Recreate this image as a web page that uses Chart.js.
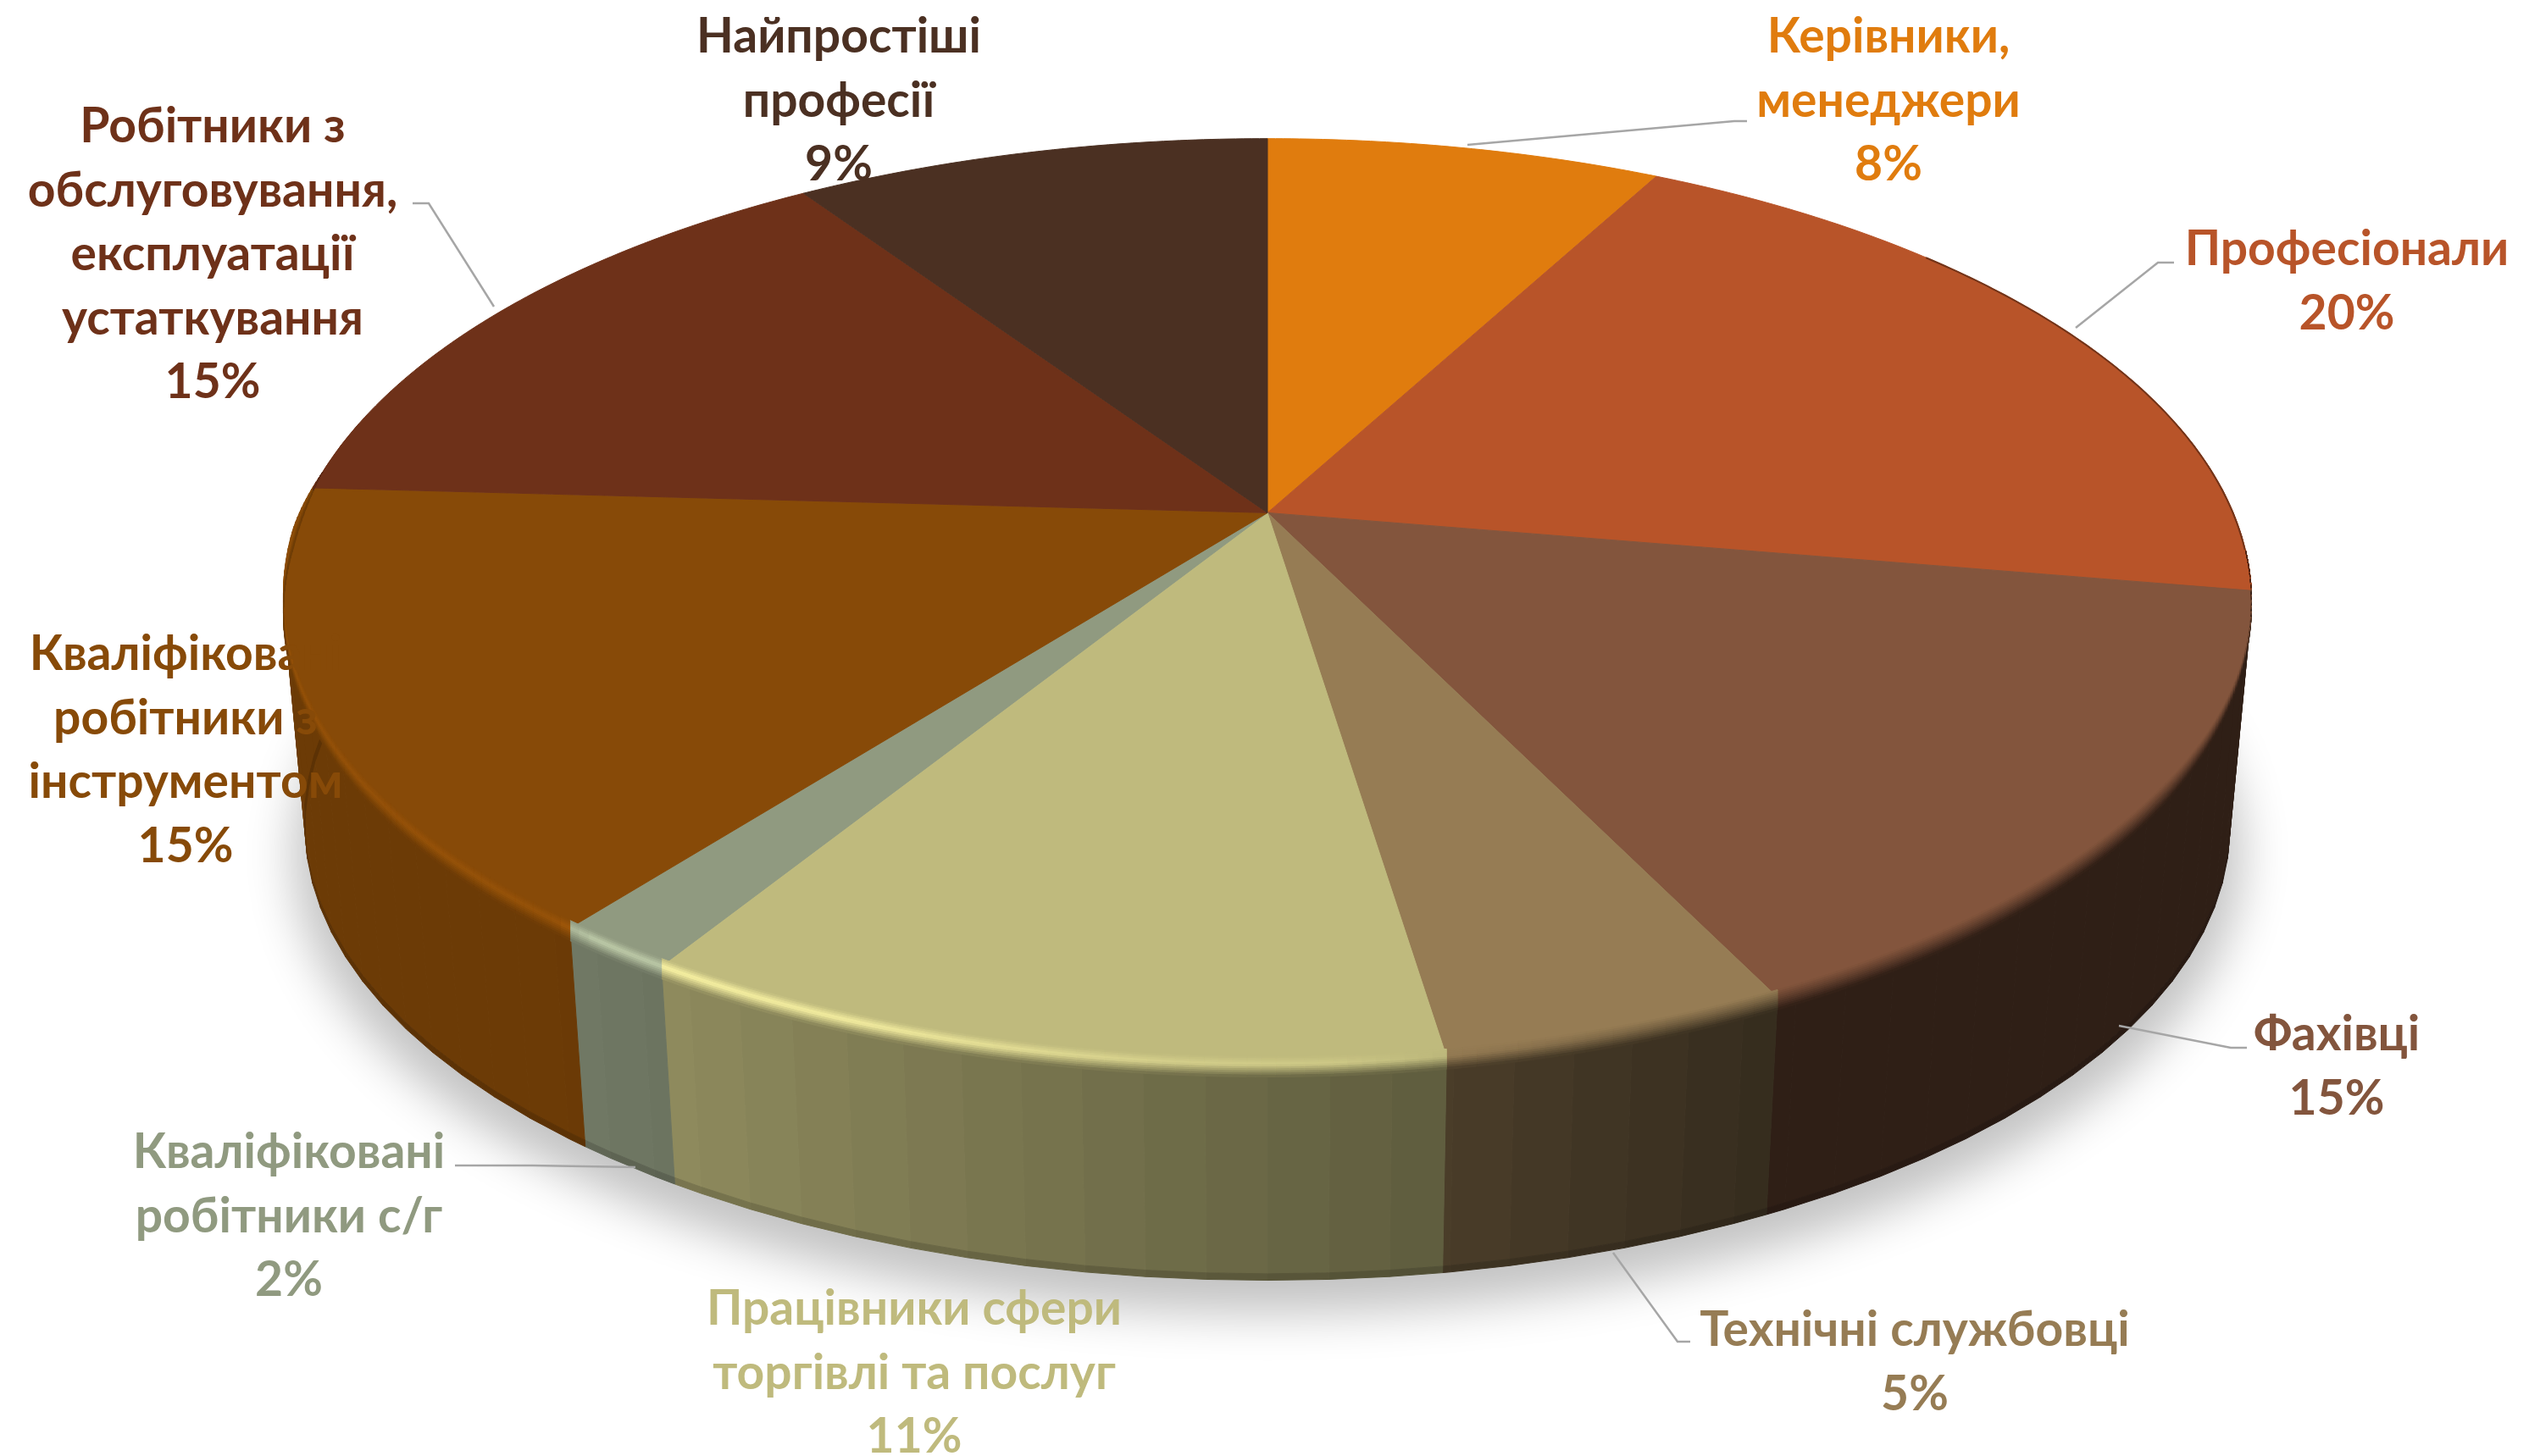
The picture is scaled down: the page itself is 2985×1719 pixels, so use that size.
<!DOCTYPE html>
<html lang="uk">
<head>
<meta charset="utf-8">
<title>Професійний склад</title>
<script src="https://cdn.jsdelivr.net/npm/chart.js@4/dist/chart.umd.js"></script>
<style>
html, body { margin: 0; padding: 0; background: #fff; }
canvas { display: block; }
</style>
</head>
<body>
<canvas id="pie" width="2985" height="1719"></canvas>
<script>
// Chart values, estimated from the slice edges; labels show them rounded
const categories = [
    ['Керівники,', 'менеджери'],
    ['Професіонали'],
    ['Фахівці'],
    ['Технічні службовці'],
    ['Працівники сфери', 'торгівлі та послуг'],
    ['Кваліфіковані', 'робітники с/г'],
    ['Кваліфіковані', 'робітники з', 'інструментом'],
    ['Робітники з', 'обслуговування,', 'експлуатації', 'устаткування'],
    ['Найпростіші', 'професії'],
];
const shares = [7.8, 19.9, 15.1, 4.8, 11.2, 1.7, 15.4, 14.7, 9.4];
const colors = ['#E07C0E', '#B85429', '#83553D', '#967C54', '#BFBA7D', '#909A80', '#874A08', '#6E3119', '#4B3022'];

// Label centres (x, first line y) and leader lines, in page pixels
const labelPos = [[2229, 44], [2770, 295], [2758, 1222], [2260, 1571], [1079, 1546], [341, 1361], [219, 773], [251, 150], [990, 44]];
const leaders = [
    [[1732, 171], [2047, 143], [2062, 143]],
    [[2450, 387], [2547, 310], [2566, 310]],
    [[2501, 1211], [2633, 1237], [2652, 1237]],
    [[1904, 1479], [1980, 1584], [1995, 1584]],
    null,
    [[750, 1378], [628, 1376], [537, 1376]],
    null,
    [[583, 362], [506, 240], [487, 240]],
    null,
];

// Tilted disc: perspective for the top face, then a slightly smaller bottom face
const view = { cx: 1496, cy: 605.4, k: 1140, h: 526.4, a: 0.1916, drop: 268, squeeze: 0.978, squeezeY: 0.98 };
const FONT = '700 57px Lato';
const LINE = 75.4;

function pt(theta, r, z) {
    const s = Math.sin(theta) * r, c = Math.cos(theta) * r, d = 1 + view.a * c;
    const x = view.k * s / d, y = -view.h * c / d;
    return [
        view.cx + x * (1 - (1 - view.squeeze) * z),
        view.cy + y * (1 - (1 - view.squeezeY) * z) + view.drop * z,
    ];
}
function rgb(hex) { return [1, 3, 5].map(i => parseInt(hex.substr(i, 2), 16)); }
function css(c) { return 'rgb(' + c.map(v => Math.max(0, Math.min(255, Math.round(v)))).join(',') + ')'; }
function mix(a, b, t) { return a.map((v, i) => v + (b[i] - v) * t); }
function lerpTable(tbl, deg) {
    if (deg <= tbl[0][0]) return tbl[0][1];
    for (let i = 1; i < tbl.length; i++) {
        if (deg <= tbl[i][0]) return tbl[i - 1][1] + (tbl[i][1] - tbl[i - 1][1]) * (deg - tbl[i - 1][0]) / (tbl[i][0] - tbl[i - 1][0]);
    }
    return tbl[tbl.length - 1][1];
}
// how dark the side wall is, and how bright the rim gets, around the disc
const wallShade = [[90, 0.36], [155, 0.36], [172, 0.5], [212, 0.75], [220, 0.8], [275, 0.8]];
const rimGlow = [[160, 1], [185, 1.12], [200, 1.28], [216, 1.32], [219, 1.12], [262, 1.1], [275, 1.02]];

function quad(ctx, a, b, c, d, fill) {
    ctx.fillStyle = ctx.strokeStyle = fill;
    ctx.lineWidth = 1;
    ctx.beginPath();
    ctx.moveTo(a[0], a[1]); ctx.lineTo(b[0], b[1]); ctx.lineTo(c[0], c[1]); ctx.lineTo(d[0], d[1]);
    ctx.closePath();
    ctx.fill();
    ctx.stroke();
}

const disc3d = {
    id: 'disc3d',
    beforeDatasetsDraw(chart) {
        const ctx = chart.ctx;
        const arcs = chart.getDatasetMeta(0).data.map((el, i) => ({
            from: el.startAngle + Math.PI / 2,
            to: el.endAngle + Math.PI / 2,
            base: rgb(colors[i]),
        }));

        // soft shadow under the disc (shape itself stays off canvas)
        const away = 5000;
        ctx.save();
        ctx.shadowColor = 'rgba(0,0,0,0.24)';
        ctx.shadowBlur = 55;
        ctx.shadowOffsetX = away;
        ctx.shadowOffsetY = 30;
        ctx.fillStyle = '#000';
        ctx.beginPath();
        for (let d = 0; d <= 360; d += 2) {
            const p = pt(d * Math.PI / 180, 1.012, 1);
            d ? ctx.lineTo(p[0] - away, p[1]) : ctx.moveTo(p[0] - away, p[1]);
        }
        ctx.closePath();
        ctx.fill();
        ctx.restore();

        // side wall in narrow facets
        const step = 3 * Math.PI / 180;
        arcs.forEach(arc => {
            for (let t = Math.floor(arc.from / step) * step; t < arc.to; t += step) {
                const a = Math.max(t, arc.from), b = Math.min(t + step, arc.to);
                if (b <= a || a > 4.9 || b < 1.4) continue;
                const deg = (a + b) / 2 * 180 / Math.PI;
                const wall = arc.base.map(v => v * lerpTable(wallShade, deg));
                quad(ctx, pt(a, 1, 0), pt(b, 1, 0), pt(b, 1, 0.97), pt(a, 1, 0.97), css(wall));
                quad(ctx, pt(a, 1, 0.97), pt(b, 1, 0.97), pt(b, 1, 1), pt(a, 1, 1), css(wall.map(v => v * 0.85)));
            }
        });

        // top face
        arcs.forEach(arc => {
            ctx.fillStyle = ctx.strokeStyle = css(arc.base);
            ctx.lineWidth = 1;
            ctx.beginPath();
            ctx.moveTo(view.cx, view.cy);
            const n = Math.ceil((arc.to - arc.from) / 0.01);
            for (let i = 0; i <= n; i++) {
                const p = pt(arc.from + (arc.to - arc.from) * i / n, 1, 0);
                ctx.lineTo(p[0], p[1]);
            }
            ctx.closePath();
            ctx.fill();
            ctx.stroke();
        });

        // thin dark edge on the upper right of the rim
        arcs.forEach(arc => {
            const a = Math.max(arc.from, 50 * Math.PI / 180), b = Math.min(arc.to, 95 * Math.PI / 180);
            if (b <= a) return;
            ctx.strokeStyle = css(arc.base.map(v => v * 0.62));
            ctx.lineWidth = 2;
            ctx.beginPath();
            for (let t = a; t <= b; t += 0.01) {
                const p = pt(t, 0.9995, 0);
                t === a ? ctx.moveTo(p[0], p[1]) : ctx.lineTo(p[0], p[1]);
            }
            ctx.stroke();
        });

        // bevel between face and wall
        const bands = 10, above = 9, below = 15, fine = 0.012;
        arcs.forEach(arc => {
            for (let t = arc.from; t < arc.to; t += fine) {
                const b = Math.min(t + fine, arc.to), deg = (t + b) / 2 * 180 / Math.PI;
                if (deg < 95 || deg > 275) continue;
                const glow = lerpTable(rimGlow, deg);
                const wall = arc.base.map(v => v * lerpTable(wallShade, deg));
                const calm = mix(arc.base, wall, 0.35);
                const peak = mix(calm, arc.base.map(v => v * glow), Math.min(1, (glow - 1) / 0.08));
                const p0 = pt(t, 1, 0), p1 = pt(b, 1, 0);
                const fade = Math.min(1, (deg - 95) / 30, (275 - deg) / 8);
                for (let j = 0; j < bands; j++) {
                    const u = (j + 0.5) / bands;
                    const col = u < 0.4 ? mix(arc.base, peak, u / 0.4) : mix(peak, wall, (u - 0.4) / 0.6);
                    const y0 = (-above + (above + below) * j / bands) * fade;
                    const y1 = (-above + (above + below) * (j + 1) / bands) * fade;
                    quad(ctx, [p0[0], p0[1] + y0], [p1[0], p1[1] + y0], [p1[0], p1[1] + y1], [p0[0], p0[1] + y1], css(col));
                }
            }
        });
        return false; // the faces above replace the flat slices
    },
    afterDraw(chart) {
        const ctx = chart.ctx;
        ctx.save();
        ctx.strokeStyle = '#A6A6A6';
        ctx.lineWidth = 2.5;
        leaders.forEach(line => {
            if (!line) return;
            ctx.beginPath();
            line.forEach((p, i) => (i ? ctx.lineTo(p[0], p[1]) : ctx.moveTo(p[0], p[1])));
            ctx.stroke();
        });
        ctx.font = FONT;
        ctx.textAlign = 'center';
        ctx.textBaseline = 'middle';
        categories.forEach((lines, i) => {
            ctx.fillStyle = colors[i];
            [...lines, Math.round(shares[i]) + '%'].forEach((txt, j) => {
                ctx.fillText(txt, labelPos[i][0], labelPos[i][1] + j * LINE);
            });
        });
        ctx.restore();
    },
};

new Chart(document.getElementById('pie'), {
    type: 'pie',
    data: {
        labels: categories.map(c => c.join(' ')),
        datasets: [{ data: shares, backgroundColor: colors, borderWidth: 0 }],
    },
    options: {
        responsive: false,
        animation: false,
        events: [],
        plugins: { legend: { display: false }, tooltip: { enabled: false } },
    },
    plugins: [disc3d],
});
</script>
</body>
</html>
